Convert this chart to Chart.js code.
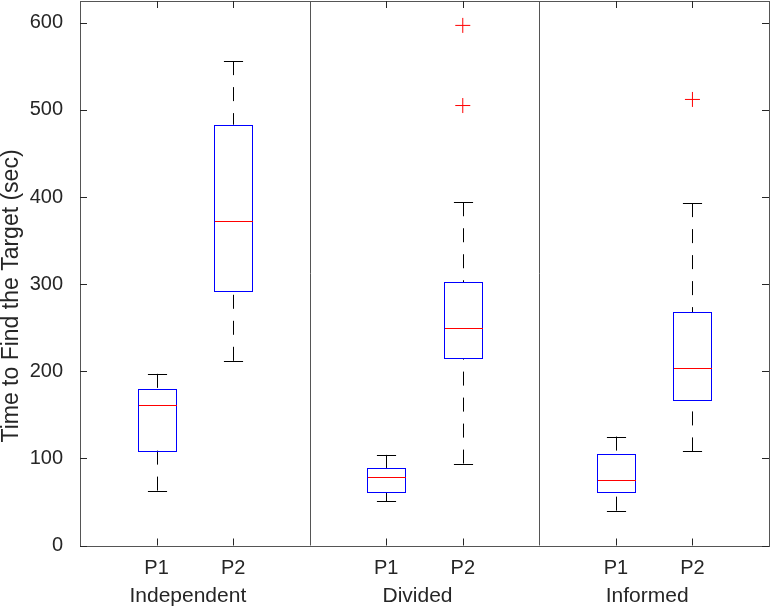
<!DOCTYPE html>
<html lang="en">
<head>
    <meta charset="UTF-8">
    <title>Time to Find the Target</title>
    <script src="https://cdn.jsdelivr.net/npm/chart.js"></script>
    <style>
        html, body { margin: 0; padding: 0; background: #fff; }
        #contenedor { width: 772px; height: 608px; }
    </style>
</head>
<body>
    <div id="contenedor"><canvas id="grafico"></canvas></div>

    <script>
        // Datos (segundos)
        const groups = ['Independent', 'Divided', 'Informed'];
        const conditions = ['P1', 'P2'];
        const whiskerLow  = [63, 212, 51, 94, 40, 108];
        const q1          = [109, 293, 61, 215, 61, 167];
        const median      = [161, 373, 79, 250, 75, 204];
        const q3          = [180, 483, 89, 302, 105, 268];
        const whiskerHigh = [197, 556, 104, 394, 125, 393];
        const outliers    = [[], [], [], [597, 505], [], [512]];
        const yTicks = [0, 100, 200, 300, 400, 500, 600];

        const FONT = "'Liberation Sans', Arial, Helvetica, sans-serif";
        const TEXT = '#262626';

        // posicion en x de cada caja: dos por grupo y un hueco entre grupos
        function boxX(i) {
            return Math.floor(i / 2) * 3 + (i % 2) + 1;
        }
        const boxPositions = median.map((_, i) => boxX(i));
        const groupCenters = groups.map((_, g) => g * 3 + 1.5);

        const crisp = v => Math.round(v) + 0.5;

        // fija el tamaño de cada eje y quita el relleno automatico
        function fixSize(size) {
            return scale => {
                if (scale.isHorizontal()) scale.height = size; else scale.width = size;
                scale.paddingTop = 0; scale.paddingBottom = 0;
                scale.paddingLeft = 0; scale.paddingRight = 0;
            };
        }

        const boxPlugin = {
            id: 'boxes',
            beforeDatasetsDraw(chart) {
                const { ctx, chartArea: a, scales: { x, y } } = chart;
                ctx.save();
                ctx.lineWidth = 1;

                // marco y separadores de grupo
                ctx.strokeStyle = '#555';
                ctx.strokeRect(crisp(a.left), crisp(a.top), Math.round(a.right - a.left), Math.round(a.bottom - a.top));
                for (let g = 1; g < groups.length; g++) {
                    const xp = crisp(x.getPixelForValue(g * 3));
                    ctx.beginPath();
                    ctx.moveTo(xp, a.top);
                    ctx.lineTo(xp, a.bottom);
                    ctx.stroke();
                }

                // marcas hacia dentro
                const tl = 7;
                ctx.strokeStyle = TEXT;
                ctx.beginPath();
                yTicks.forEach(v => {
                    const yp = crisp(y.getPixelForValue(v));
                    ctx.moveTo(a.left, yp); ctx.lineTo(a.left + tl, yp);
                    ctx.moveTo(a.right, yp); ctx.lineTo(a.right - tl, yp);
                });
                boxPositions.forEach(v => {
                    const xp = crisp(x.getPixelForValue(v));
                    ctx.moveTo(xp, a.bottom); ctx.lineTo(xp, a.bottom - tl);
                    ctx.moveTo(xp, a.top); ctx.lineTo(xp, a.top + tl);
                });
                ctx.stroke();

                // cajas
                for (let i = 0; i < median.length; i++) {
                    const xc = crisp(x.getPixelForValue(boxPositions[i]));
                    const half = x.getPixelForValue(boxPositions[i] + 0.25) - x.getPixelForValue(boxPositions[i]);
                    const cap = half / 2;
                    const yLo = y.getPixelForValue(whiskerLow[i]);
                    const yQ1 = y.getPixelForValue(q1[i]);
                    const yMed = y.getPixelForValue(median[i]);
                    const yQ3 = y.getPixelForValue(q3[i]);
                    const yHi = y.getPixelForValue(whiskerHigh[i]);

                    // bigotes discontinuos
                    ctx.strokeStyle = '#000';
                    ctx.setLineDash([14, 12]);
                    ctx.beginPath();
                    ctx.moveTo(xc, yHi); ctx.lineTo(xc, yQ3);
                    ctx.moveTo(xc, yLo); ctx.lineTo(xc, yQ1);
                    ctx.stroke();
                    ctx.setLineDash([]);
                    ctx.beginPath();
                    ctx.moveTo(xc - cap, crisp(yHi)); ctx.lineTo(xc + cap, crisp(yHi));
                    ctx.moveTo(xc - cap, crisp(yLo)); ctx.lineTo(xc + cap, crisp(yLo));
                    ctx.stroke();

                    // caja
                    ctx.strokeStyle = '#0000ff';
                    ctx.strokeRect(crisp(xc - half), crisp(yQ3), Math.round(2 * half), Math.round(yQ1 - yQ3));

                    // mediana
                    ctx.strokeStyle = '#ff0000';
                    ctx.beginPath();
                    ctx.moveTo(Math.round(xc - half) + 1, crisp(yMed));
                    ctx.lineTo(Math.round(xc + half), crisp(yMed));
                    ctx.stroke();
                }
                ctx.restore();
            },
            afterDraw(chart) {
                const { ctx } = chart;
                ctx.save();
                ctx.translate(18, 296);
                ctx.rotate(-Math.PI / 2);
                ctx.font = '23px ' + FONT;
                ctx.fillStyle = TEXT;
                ctx.textAlign = 'center';
                ctx.textBaseline = 'alphabetic';
                ctx.fillText('Time to Find the Target (sec)', 0, 0);
                ctx.restore();
            }
        };

        const outlierPoints = outliers.flatMap((list, i) => list.map(v => ({ x: boxPositions[i], y: v })));

        const ctx = document.getElementById('grafico').getContext('2d');
        const myChart = new Chart(ctx, {
            type: 'scatter',
            data: {
                datasets: [{
                    label: 'Outliers',
                    data: outlierPoints,
                    pointStyle: 'cross',
                    pointRadius: 7.5,
                    pointHoverRadius: 7.5,
                    borderColor: '#ff0000',
                    backgroundColor: '#ff0000',
                    pointBorderWidth: 1
                }]
            },
            options: {
                responsive: true,
                maintainAspectRatio: false,
                animation: false,
                layout: { autoPadding: false, padding: { top: 1, right: 3, left: 0, bottom: 0 } },
                plugins: { legend: { display: false }, tooltip: { enabled: false } },
                scales: {
                    x: {
                        type: 'linear',
                        position: 'bottom',
                        min: 0,
                        max: 9,
                        grid: { display: false, drawTicks: false },
                        border: { display: false },
                        afterBuildTicks: scale => { scale.ticks = boxPositions.map(v => ({ value: v })); },
                        afterFit: fixSize(34),
                        ticks: {
                            autoSkip: false,
                            maxRotation: 0,
                            padding: 11,
                            color: TEXT,
                            font: { family: FONT, size: 20 },
                            callback: (value, index) => conditions[index % conditions.length]
                        }
                    },
                    x2: {
                        type: 'linear',
                        position: 'bottom',
                        min: 0,
                        max: 9,
                        grid: { display: false, drawTicks: false },
                        border: { display: false },
                        afterBuildTicks: scale => { scale.ticks = groupCenters.map(v => ({ value: v })); },
                        afterFit: fixSize(28.5),
                        ticks: {
                            autoSkip: false,
                            maxRotation: 0,
                            padding: 4,
                            labelOffset: -7,
                            color: TEXT,
                            font: { family: FONT, size: 21 },
                            callback: (value, index) => groups[index]
                        }
                    },
                    y: {
                        min: 0,
                        max: 625,
                        grid: { display: false, drawTicks: false },
                        border: { display: false },
                        afterBuildTicks: scale => { scale.ticks = yTicks.map(v => ({ value: v })); },
                        afterFit: fixSize(80),
                        ticks: {
                            padding: 17,
                            color: TEXT,
                            font: { family: FONT, size: 20 }
                        }
                    }
                }
            },
            plugins: [boxPlugin]
        });
    </script>
</body>
</html>
